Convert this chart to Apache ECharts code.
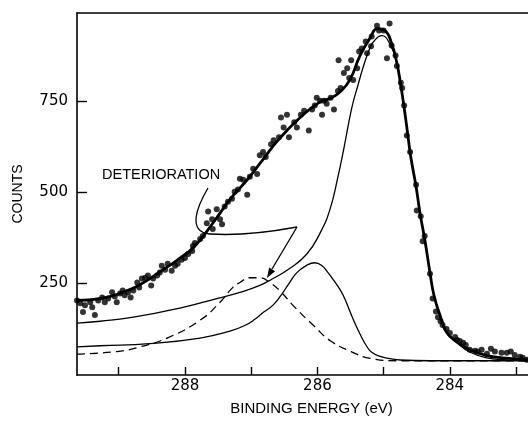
<!DOCTYPE html>
<html><head><meta charset="utf-8">
<script src="https://cdn.jsdelivr.net/npm/echarts@6/dist/echarts.min.js"></script>
<style>html,body{margin:0;padding:0;background:#fff}#c{width:528px;height:421px}</style>
</head><body><div id="c"></div>
<script>
// Axis ticks / labels
const xTicks = [283, 284, 285, 286, 287, 288, 289];
const xLabels = [284, 286, 288];
const yTicks = [250, 500, 750];

// Measured data points (binding energy eV, counts)
const pointBE = [
289.63,289.58,289.54,289.51,289.43,289.40,289.36,289.31,289.25,289.21,
289.16,289.10,289.06,289.03,288.98,288.94,288.91,288.86,288.82,288.78,
288.72,288.69,288.65,288.60,288.56,288.51,288.48,288.42,288.38,288.35,
288.30,288.26,288.20,288.15,288.11,288.05,288.00,287.95,287.89,287.88,
287.85,287.77,287.73,287.67,287.65,287.59,287.58,287.52,287.47,287.44,
287.40,287.35,287.29,287.25,287.20,287.17,287.12,287.06,287.02,286.97,
286.91,286.87,286.82,286.78,286.70,286.66,286.58,286.55,286.51,286.46,
286.43,286.35,286.31,286.25,286.20,286.13,286.08,286.04,286.01,285.96,
285.93,285.90,285.86,285.80,285.75,285.69,285.68,285.65,285.60,285.55,
285.52,285.49,285.46,285.40,285.37,285.33,285.27,285.25,285.19,285.18,
285.10,285.07,285.00,284.95,284.91,284.88,284.82,284.80,284.74,284.72,
284.69,284.65,284.60,284.51,284.50,284.44,284.41,284.38,284.30,284.26,
284.21,284.18,284.14,284.11,284.05,284.00,283.92,283.89,283.85,283.80,
283.76,283.70,283.62,283.58,283.52,283.44,283.38,283.32,283.22,283.14,
283.08,283.02,282.94,282.90,282.84
];
const pointCounts = [
204,196,172,191,199,185,164,204,212,199,
209,226,215,199,223,231,218,226,212,231,
253,239,264,266,272,245,264,272,280,299,
288,304,285,299,304,315,320,331,339,353,
361,372,380,415,447,426,399,453,426,412,
461,474,482,501,507,537,534,493,542,564,
550,601,610,596,631,642,650,704,677,712,
650,691,677,712,723,669,726,737,758,750,
712,750,742,758,726,777,861,785,826,839,
812,861,807,839,885,893,912,880,899,926,
955,942,942,866,961,901,874,845,799,785,
737,655,610,520,450,434,366,380,277,209,
174,158,147,137,126,115,104,96,93,88,
82,69,66,64,69,58,72,64,61,61,
64,55,50,47,42
];

// Total fitted envelope
const fitBE = [289.63,289.28,288.91,288.65,288.38,288.11,287.85,287.58,287.32,287.06,286.82,286.57,286.26,285.96,285.81,285.66,285.51,285.36,285.21,285.09,284.98,284.88,284.80,284.74,284.69,284.63,284.59,284.51,284.45,284.38,284.30,284.24,284.15,284.05,283.89,283.70,283.44,283.20,282.82];
const fitCounts = [204,209,228,250,282,315,353,415,480,534,590,647,704,747,756,774,807,872,920,947,942,907,853,791,731,650,596,515,442,372,280,218,164,117,90,69,53,47,42];

// Main component (solid)
const mainBE = [289.63,289.28,288.78,288.03,287.52,287.17,286.87,286.67,286.42,286.16,285.96,285.81,285.69,285.60,285.48,285.39,285.30,285.21,285.15,285.03,284.91,284.80,284.74,284.69,284.63,284.59,284.51,284.45,284.38,284.30,284.24,284.15,284.05,283.89,283.70,283.44,283.20,282.82];
const mainCounts = [142,147,158,185,209,226,245,264,291,331,388,453,542,620,731,791,847,893,912,928,907,853,791,731,650,596,515,442,372,280,218,164,117,88,63,47,42,39];

// Second component (solid)
const secondBE = [289.63,289.28,288.53,287.77,287.32,287.09,286.94,286.81,286.67,286.55,286.43,286.31,286.17,286.04,285.93,285.84,285.75,285.66,285.58,285.50,285.42,285.34,285.26,285.18,285.04,284.91,284.75,284.30,282.82];
const secondCounts = [77,80,86,101,120,136,153,172,191,218,250,280,299,307,299,280,258,234,206,170,136,106,80,62,50,45,41,39,39];

// Deteriorated component (dashed)
const deterBE = [289.63,289.03,288.68,288.27,287.77,287.47,287.28,287.17,287.02,286.87,286.72,286.57,286.34,286.05,285.80,285.49,285.19,284.80,282.82];
const deterCounts = [57,64,77,101,150,199,239,253,266,266,253,231,185,134,93,64,45,39,39];

const zip = (a, b) => a.map((v, i) => [v, b[i]]);
const ink = '#000';

const chart = echarts.init(document.getElementById('c'), null, {renderer: 'canvas'});
const lineS = (name, xs, ys, w, dash) => ({
  name, type: 'line', data: zip(xs, ys), showSymbol: false, smooth: 0.5,
  lineStyle: {color: ink, width: w, type: dash || 'solid'}, z: 2, silent: true
});

chart.setOption({
  animation: false,
  backgroundColor: '#fff',
  grid: {left: 77, right: 0, top: 13, bottom: 42},
  xAxis: [{
    type: 'value', min: 282.82, max: 289.63, inverse: true,
    name: 'BINDING ENERGY (eV)', nameLocation: 'middle', nameGap: 26,
    nameTextStyle: {fontFamily: 'Liberation Sans', fontSize: 15, color: ink, padding: [0, 0, 0, 18]},
    axisLine: {lineStyle: {color: ink, width: 1.6}},
    axisTick: {inside: true, length: 8, customValues: xTicks, lineStyle: {color: ink, width: 1.4}},
    axisLabel: {customValues: xLabels, margin: 4, fontFamily: 'DejaVu Sans', fontSize: 15, color: ink},
    splitLine: {show: false}
  }, {
    type: 'value', position: 'top', min: 282.82, max: 289.63, inverse: true,
    axisLine: {show: true, onZero: false, lineStyle: {color: ink, width: 1.6}},
    axisTick: {show: false}, axisLabel: {show: false}, splitLine: {show: false}
  }],
  yAxis: {
    type: 'value', min: 0, max: 990,
    name: 'COUNTS', nameLocation: 'middle', nameGap: 52,
    nameTextStyle: {fontFamily: 'Liberation Sans', fontSize: 14, color: ink},
    axisLine: {show: true, lineStyle: {color: ink, width: 1.6}},
    axisTick: {show: true, inside: true, length: 10, customValues: yTicks, lineStyle: {color: ink, width: 1.4}},
    axisLabel: {customValues: yTicks, margin: 9, fontFamily: 'DejaVu Sans', fontSize: 15, color: ink},
    splitLine: {show: false}
  },
  series: [
    lineS('deteriorated', deterBE, deterCounts, 1.3, [8, 5]),
    lineS('second', secondBE, secondCounts, 1.3),
    lineS('main', mainBE, mainCounts, 1.3),
    lineS('fit', fitBE, fitCounts, 2.8),
    {
      name: 'data', type: 'scatter', data: zip(pointBE, pointCounts),
      symbolSize: 6, itemStyle: {color: ink}, z: 3, silent: true
    }
  ],
  graphic: [
    {type: 'text', left: 102, top: 167, silent: true,
      style: {text: 'DETERIORATION', fontFamily: 'Liberation Sans', fontSize: 14.5, fill: ink}},
    {type: 'bezierCurve', silent: true,
      shape: {x1: 208, y1: 188, cpx1: 198, cpy1: 205, cpx2: 186, cpy2: 232, x2: 210, y2: 234},
      style: {stroke: ink, lineWidth: 1.3, fill: null}},
    {type: 'bezierCurve', silent: true,
      shape: {x1: 210, y1: 234, cpx1: 240, cpy1: 236, cpx2: 270, cpy2: 232, x2: 297, y2: 227},
      style: {stroke: ink, lineWidth: 1.3, fill: null}},
    {type: 'line', silent: true,
      shape: {x1: 297, y1: 227, x2: 272, y2: 269},
      style: {stroke: ink, lineWidth: 1.3}},
    {type: 'polygon', silent: true,
      shape: {points: [[267, 278], [275.1, 271.2], [269.1, 267.6]]},
      style: {fill: ink}}
  ]
});
</script>
</body></html>
